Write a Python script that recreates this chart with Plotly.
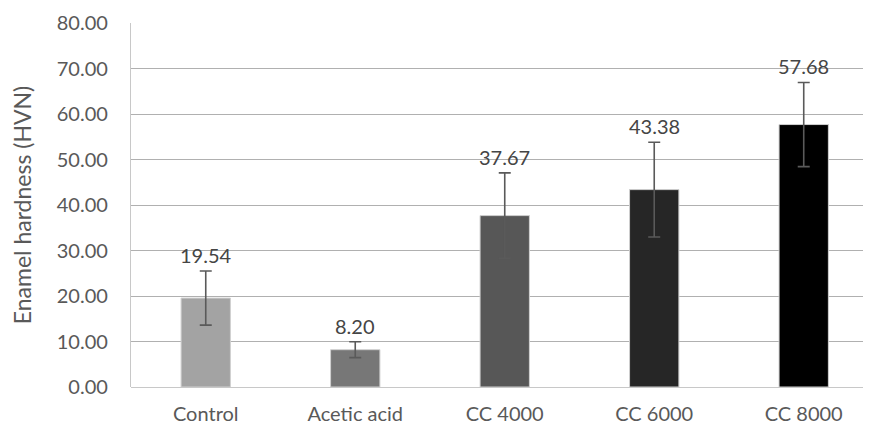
import plotly.graph_objects as go

categories = ["Control", "Acetic acid", "CC 4000", "CC 6000", "CC 8000"]
values = [19.54, 8.20, 37.67, 43.38, 57.68]
errors = [5.95, 1.75, 9.4, 10.4, 9.25]
colors = ["#a3a3a3", "#777777", "#575757", "#262626", "#000000"]
y_ticks = [0, 10, 20, 30, 40, 50, 60, 70, 80]

FONT = "Lato"

fig = go.Figure()
fig.add_trace(go.Bar(
    x=categories, y=values,
    marker=dict(color=colors, line=dict(color="#d0d0d0", width=1)),
    width=0.33,
    error_y=dict(type="data", array=errors, visible=True,
                 color="#5a5a5a", thickness=1.6, width=6),
    showlegend=False, hoverinfo="skip",
))

for c, v, e in zip(categories, values, errors):
    fig.add_annotation(x=c, y=v + e, text=f"{v:.2f}", showarrow=False,
                       yanchor="bottom", yshift=2,
                       font=dict(family=FONT, size=20, color="#454545"))

fig.update_layout(
    width=863, height=418,
    margin=dict(l=123, r=0, t=15, b=39, pad=0),
    paper_bgcolor="white", plot_bgcolor="white",
    bargap=0.67,
    font=dict(family=FONT, size=20, color="#595959"),
)
fig.update_xaxes(
    range=[-0.5, 4.45], showgrid=False, zeroline=False,
    showline=False, ticks="", ticklabelstandoff=13,
    tickfont=dict(family=FONT, size=20, color="#595959"),
)
fig.update_yaxes(
    range=[0, 80], tickvals=y_ticks, ticktext=[f"{t:.2f}" for t in y_ticks],
    showgrid=True, gridcolor="#b0b0b0", gridwidth=1.3,
    zeroline=True, zerolinecolor="#c8c8c8", zerolinewidth=1.2,
    showline=True, linecolor="#c8c8c8", linewidth=1.2,
    ticks="", ticklabelstandoff=18,
    tickfont=dict(family=FONT, size=20, color="#595959"),
    title=dict(text="Enamel hardness (HVN)", standoff=20,
               font=dict(family=FONT, size=23, color="#595959")),
)

fig.write_html("out.html")
